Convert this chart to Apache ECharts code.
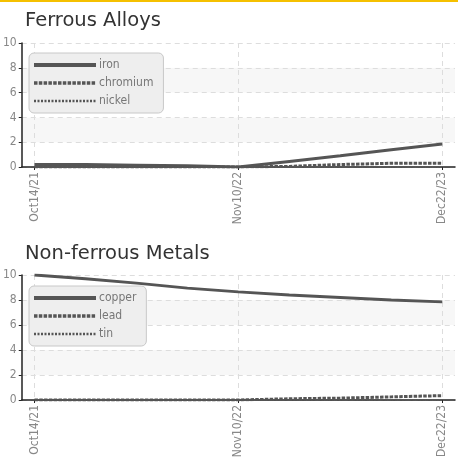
<!DOCTYPE html>
<html><head><meta charset="utf-8">
<script src="https://cdn.jsdelivr.net/npm/echarts@6/dist/echarts.min.js"></script>
<style>html,body{margin:0;padding:0;background:#fff}#c{width:458px;height:465px}</style>
</head><body><div id="c"></div>
<script>
const categories = ['Oct14/21','Jan21/22','Apr30/22','Aug05/22','Nov10/22','Feb15/23','May24/23','Sep15/23','Dec22/23'];
const tickLabels = ['Oct14/21','Nov10/22','Dec22/23'];
const iron = [0.2,0.2,0.15,0.1,0,0.45,0.9,1.4,1.85];
const chromium = [0,0,0,0,0,0.05,0.2,0.3,0.3];
const nickel = [0,0,0,0,0,0,0,0,0];
const copper = [10,9.7,9.35,8.95,8.65,8.4,8.2,8.0,7.85];
const lead = [0,0,0,0,0,0.1,0.15,0.25,0.35];
const tin = [0,0,0,0,0,0,0,0,0];
const yTicks = [0,2,4,6,8,10];

function pts(arr){return categories.map((c,i)=>[i,arr[i]]);}
const ticks = tickLabels.map(t=>categories.indexOf(t));
const font = 'DejaVu Sans Condensed';
const dark = '#555';
function xAxis(gi){return {type:'value',gridIndex:gi,min:-0.25,max:categories.length-0.75,
  axisLine:{onZero:false,lineStyle:{color:'#222',width:1.5}},
  axisTick:{show:true,customValues:ticks,length:3,lineStyle:{color:'#222'}},
  axisLabel:{customValues:ticks,rotate:90,formatter:v=>categories[Math.round(v)],color:'#888',fontFamily:font,fontSize:12,margin:5},
  splitLine:{show:true,lineStyle:{color:'#ddd',type:[5,4]}}};}
function yAxis(gi){return {type:'value',gridIndex:gi,min:yTicks[0],max:yTicks[yTicks.length-1],interval:2,
  axisLine:{show:true,onZero:false,lineStyle:{color:'#222',width:1.5}},
  axisTick:{show:true,length:3,lineStyle:{color:'#222'}},
  axisLabel:{color:'#888',fontFamily:font,fontSize:12,margin:5},
  splitLine:{show:true,lineStyle:{color:'#ddd',type:[5,4]}},
  splitArea:{show:true,areaStyle:{color:['#ffffff','#f7f7f7']}}};}
function ser(name,arr,gi,style){return {name,type:'line',xAxisIndex:gi,yAxisIndex:gi,data:pts(arr),symbol:'none',
  lineStyle:Object.assign({color:dark},style),itemStyle:{color:dark}};}
const sSolid={width:3};
const sDash={width:3,type:[3.5,1.3]};
const sDot={width:2,type:[2,1.5]};
const legendWidths=[4,3.5,2.5];
function legend(names,top){return {data:names.map((n,i)=>({name:n,lineStyle:{width:legendWidths[i]}})),left:29,top:top,orient:'vertical',itemWidth:62,itemHeight:10,itemGap:6,
  backgroundColor:'#eeeeee',borderColor:'#c8c8c8',borderWidth:1,borderRadius:5,padding:[6,10,6,3],
  itemStyle:{opacity:0},
  textStyle:{color:'#777',fontFamily:font,fontSize:12,padding:[0,0,0,-2]}};}
const chart = echarts.init(document.getElementById('c'),null,{renderer:'canvas'});
chart.setOption({
  animation:false,
  graphic:[{type:'rect',left:0,top:0,shape:{width:458,height:2},style:{fill:'#f5c000'}}],
  title:[
    {text:'Ferrous Alloys',left:20,top:6,textStyle:{fontFamily:'DejaVu Sans',fontSize:19.5,fontWeight:'normal',color:'#333'}},
    {text:'Non-ferrous Metals',left:20,top:239,textStyle:{fontFamily:'DejaVu Sans',fontSize:19.5,fontWeight:'normal',color:'#333'}}
  ],
  legend:[legend(['iron','chromium','nickel'],53),legend(['copper','lead','tin'],286)],
  grid:[{left:20,right:3,top:43,height:124},{left:20,right:3,top:275,height:125}],
  xAxis:[xAxis(0),xAxis(1)],
  yAxis:[yAxis(0),yAxis(1)],
  series:[ser('iron',iron,0,sSolid),ser('chromium',chromium,0,sDash),ser('nickel',nickel,0,sDot),
          ser('copper',copper,1,sSolid),ser('lead',lead,1,sDash),ser('tin',tin,1,sDot)]
});
</script></body></html>
